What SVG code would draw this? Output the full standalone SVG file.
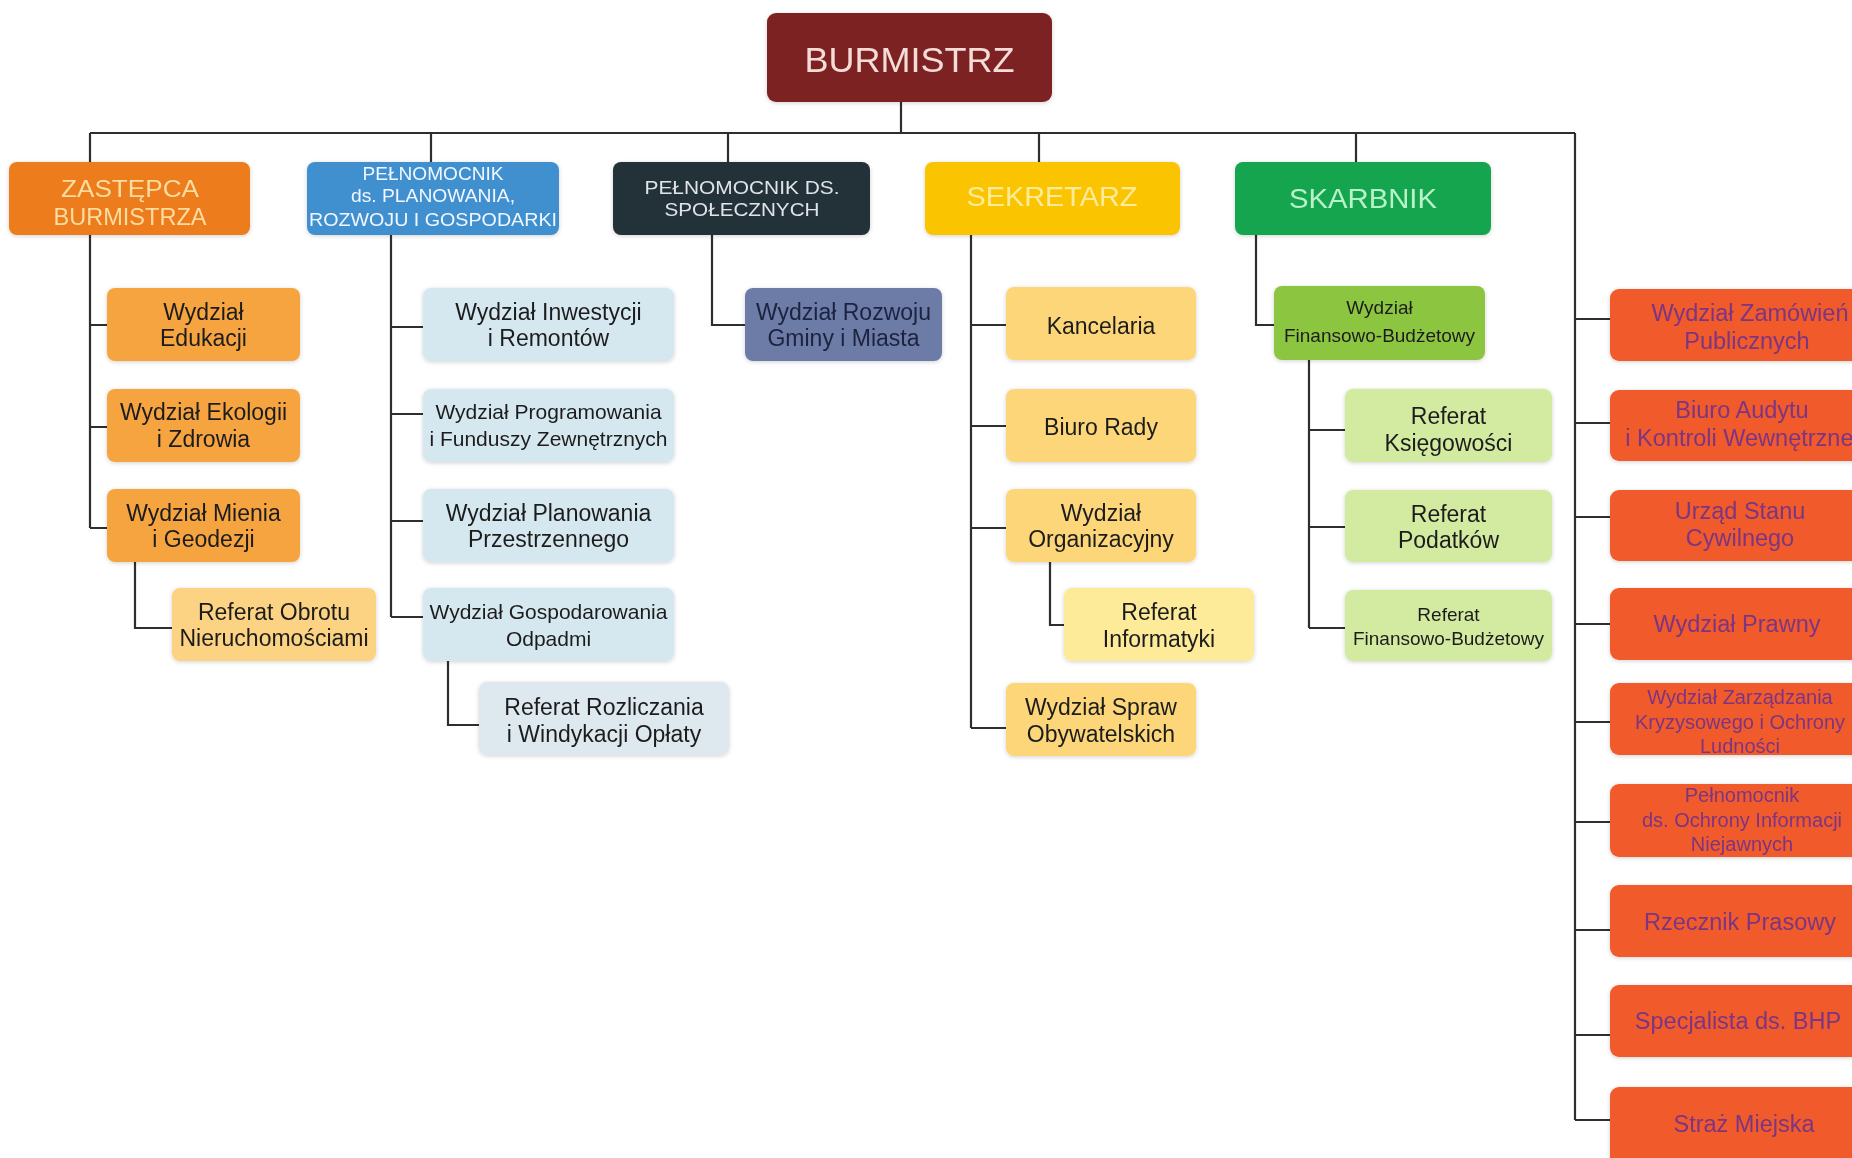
<svg xmlns="http://www.w3.org/2000/svg" width="1852" height="1158" viewBox="0 0 1852 1158">
<style>
text{font-family:"Liberation Sans",Arial,sans-serif;text-anchor:middle}
.c{fill:none;stroke:#2e2e2e;stroke-width:2.2}
.t3{font-size:23px;fill:#1d1d1d}
.s{font-size:21px}
.xs{font-size:19px}
.red rect{fill:#f15a2b}
.red text{fill:#7b3582;font-size:23.5px}
.red .sm{font-size:20px}
.or rect{fill:#f6a441}
.lb rect{fill:#d5e8f0}
.yl rect{fill:#fcd679}
.lg rect{fill:#d3eba1}
</style>
<defs>
<filter id="sh" x="-10%" y="-10%" width="120%" height="130%">
<feGaussianBlur in="SourceAlpha" stdDeviation="2"/>
<feOffset dy="1" result="b"/>
<feFlood flood-color="#000" flood-opacity="0.18"/>
<feComposite in2="b" operator="in"/>
<feMerge><feMergeNode/><feMergeNode in="SourceGraphic"/></feMerge>
</filter>
</defs>
<rect width="1852" height="1158" fill="#ffffff"/>

<g id="connectors">
<path class="c" d="M901 102V133M90 133H1575M90 133V163M431 133V163M728 133V163M1039 133V163M1356 133V163"/>
<path class="c" d="M90 235V528M90 325H107M90 427H107M90 528H107M135 562V628H172"/>
<path class="c" d="M391 235V617M391 327H423M391 414H423M391 521H423M391 617H423M448 661V725H479"/>
<path class="c" d="M712 235V325H745"/>
<path class="c" d="M971 235V728M971 325H1006M971 426H1006M971 528H1006M971 728H1006M1050 562V625H1064"/>
<path class="c" d="M1256 235V325H1274M1309 360V628M1309 430H1345M1309 527H1345M1309 628H1345"/>
<path class="c" d="M1575 133V1120M1575 319H1610M1575 423H1610M1575 517H1610M1575 624H1610M1575 722H1610M1575 822H1610M1575 930H1610M1575 1035H1610M1575 1120H1610"/>
</g>

<g id="burmistrz" filter="url(#sh)">
<rect x="767" y="13" width="285" height="89" rx="9" fill="#7c2424"/>
<text x="909.5" y="72" font-size="35" fill="#f6dcd8" textLength="210" lengthAdjust="spacingAndGlyphs">BURMISTRZ</text>
</g>

<g id="zastepca" filter="url(#sh)">
<rect x="9" y="162" width="241" height="73" rx="8" fill="#ec7c1c"/>
<text x="130" y="197" font-size="24" fill="#fcdca0" textLength="138" lengthAdjust="spacingAndGlyphs">ZASTĘPCA</text>
<text x="130" y="225" font-size="24" fill="#fcdca0" textLength="153" lengthAdjust="spacingAndGlyphs">BURMISTRZA</text>
</g>
<g id="pelnomocnik-planowania" filter="url(#sh)">
<rect x="307" y="162" width="252" height="73" rx="8" fill="#3f90d0"/>
<text x="433" y="180" font-size="18" fill="#f2f7ff" textLength="141" lengthAdjust="spacingAndGlyphs">PEŁNOMOCNIK</text>
<text x="433" y="202" font-size="18" fill="#f2f7ff" textLength="164" lengthAdjust="spacingAndGlyphs">ds. PLANOWANIA,</text>
<text x="433" y="226" font-size="18" fill="#f2f7ff" textLength="248" lengthAdjust="spacingAndGlyphs">ROZWOJU  I GOSPODARKI</text>
</g>
<g id="pelnomocnik-spolecznych" filter="url(#sh)">
<rect x="613" y="162" width="257" height="73" rx="8" fill="#243039"/>
<text x="742" y="194" font-size="19" fill="#dfe4e8" textLength="195" lengthAdjust="spacingAndGlyphs">PEŁNOMOCNIK DS.</text>
<text x="742" y="216" font-size="19" fill="#dfe4e8" textLength="155" lengthAdjust="spacingAndGlyphs">SPOŁECZNYCH</text>
</g>
<g id="sekretarz" filter="url(#sh)">
<rect x="925" y="162" width="255" height="73" rx="8" fill="#fac500"/>
<text x="1052" y="206" font-size="27" fill="#fdeb9c" textLength="171" lengthAdjust="spacingAndGlyphs">SEKRETARZ</text>
</g>
<g id="skarbnik" filter="url(#sh)">
<rect x="1235" y="162" width="256" height="73" rx="8" fill="#12a54f"/>
<text x="1363" y="208" font-size="27" fill="#b9f2c9" textLength="148" lengthAdjust="spacingAndGlyphs">SKARBNIK</text>
</g>

<g class="or" filter="url(#sh)">
<g id="wydzial-edukacji"><rect x="107" y="288" width="193" height="73" rx="8"/>
<text class="t3" x="203.5" y="320">Wydział</text><text class="t3" x="203.5" y="346">Edukacji</text></g>
<g id="wydzial-ekologii"><rect x="107" y="389" width="193" height="73" rx="8"/>
<text class="t3" x="203.5" y="420">Wydział Ekologii</text><text class="t3" x="203.5" y="447">i Zdrowia</text></g>
<g id="wydzial-mienia"><rect x="107" y="489" width="193" height="73" rx="8"/>
<text class="t3" x="203.5" y="521">Wydział Mienia</text><text class="t3" x="203.5" y="547">i Geodezji</text></g>
</g>
<g id="referat-obrotu" filter="url(#sh)"><rect x="172" y="588" width="204" height="73" rx="8" fill="#fbd382"/>
<text class="t3" x="274" y="620">Referat Obrotu</text><text class="t3" x="274" y="646">Nieruchomościami</text></g>

<g class="lb" filter="url(#sh)">
<g id="wydzial-inwestycji"><rect x="423" y="288" width="251" height="73" rx="8"/>
<text class="t3" x="548.5" y="320">Wydział Inwestycji</text><text class="t3" x="548.5" y="346">i Remontów</text></g>
<g id="wydzial-programowania"><rect x="423" y="389" width="251" height="73" rx="8"/>
<text class="t3 s" x="548.5" y="419">Wydział Programowania</text><text class="t3 s" x="548.5" y="446">i Funduszy Zewnętrznych</text></g>
<g id="wydzial-planowania"><rect x="423" y="489" width="251" height="73" rx="8"/>
<text class="t3" x="548.5" y="521">Wydział Planowania</text><text class="t3" x="548.5" y="547">Przestrzennego</text></g>
<g id="wydzial-gospodarowania"><rect x="423" y="588" width="251" height="73" rx="8"/>
<text class="t3 s" x="548.5" y="619">Wydział Gospodarowania</text><text class="t3 s" x="548.5" y="646">Odpadmi</text></g>
</g>
<g id="referat-rozliczania" filter="url(#sh)"><rect x="479" y="682" width="250" height="73" rx="8" fill="#dde9ef"/>
<text class="t3" x="604" y="715">Referat Rozliczania</text><text class="t3" x="604" y="742">i Windykacji Opłaty</text></g>

<g id="wydzial-rozwoju" filter="url(#sh)"><rect x="745" y="288" width="197" height="73" rx="8" fill="#6c7ba7"/>
<text class="t3" x="843.5" y="320" style="fill:#1c2340">Wydział Rozwoju</text><text class="t3" x="843.5" y="346" style="fill:#1c2340">Gminy i Miasta</text></g>

<g class="yl" filter="url(#sh)">
<g id="kancelaria"><rect x="1006" y="287" width="190" height="73" rx="8"/>
<text class="t3" x="1101" y="334">Kancelaria</text></g>
<g id="biuro-rady"><rect x="1006" y="389" width="190" height="73" rx="8"/>
<text class="t3" x="1101" y="435">Biuro Rady</text></g>
<g id="wydzial-organizacyjny"><rect x="1006" y="489" width="190" height="73" rx="8"/>
<text class="t3" x="1101" y="521">Wydział</text><text class="t3" x="1101" y="547">Organizacyjny</text></g>
<g id="wydzial-spraw-obywatelskich"><rect x="1006" y="683" width="190" height="73" rx="8"/>
<text class="t3" x="1101" y="715">Wydział Spraw</text><text class="t3" x="1101" y="742">Obywatelskich</text></g>
</g>
<g id="referat-informatyki" filter="url(#sh)"><rect x="1064" y="588" width="190" height="73" rx="8" fill="#fdeb99"/>
<text class="t3" x="1159" y="620">Referat</text><text class="t3" x="1159" y="647">Informatyki</text></g>

<g id="wydzial-finansowo-budzetowy" filter="url(#sh)"><rect x="1274" y="286" width="211" height="74" rx="8" fill="#8cc63f"/>
<text class="t3 xs" x="1379.5" y="314">Wydział</text><text class="t3 xs" x="1379.5" y="342">Finansowo-Budżetowy</text></g>
<g class="lg" filter="url(#sh)">
<g id="referat-ksiegowosci"><rect x="1345" y="389" width="207" height="73" rx="8"/>
<text class="t3" x="1448.5" y="424">Referat</text><text class="t3" x="1448.5" y="451">Księgowości</text></g>
<g id="referat-podatkow"><rect x="1345" y="490" width="207" height="72" rx="8"/>
<text class="t3" x="1448.5" y="522">Referat</text><text class="t3" x="1448.5" y="548">Podatków</text></g>
<g id="referat-finansowo-budzetowy"><rect x="1345" y="590" width="207" height="71" rx="8"/>
<text class="t3 xs" x="1448.5" y="621">Referat</text><text class="t3 xs" x="1448.5" y="645">Finansowo-Budżetowy</text></g>
</g>

<g class="red" filter="url(#sh)">
<g id="wydzial-zamowien"><rect x="1610" y="289" width="270" height="72" rx="9"/>
<text x="1750" y="321">Wydział Zamówień</text><text x="1747" y="349">Publicznych</text></g>
<g id="biuro-audytu"><rect x="1610" y="390" width="270" height="71" rx="9"/>
<text x="1742" y="418">Biuro Audytu</text><text x="1742" y="446">i Kontroli Wewnętrznej</text></g>
<g id="urzad-stanu-cywilnego"><rect x="1610" y="490" width="270" height="71" rx="9"/>
<text x="1740" y="519">Urząd Stanu</text><text x="1740" y="546">Cywilnego</text></g>
<g id="wydzial-prawny"><rect x="1610" y="588" width="270" height="72" rx="9"/>
<text x="1737" y="632">Wydział Prawny</text></g>
<g id="wydzial-zarzadzania"><rect x="1610" y="683" width="270" height="72" rx="9"/>
<text class="sm" x="1740" y="704">Wydział Zarządzania</text><text class="sm" x="1740" y="729">Kryzysowego i Ochrony</text><text class="sm" x="1740" y="753">Ludności</text></g>
<g id="pelnomocnik-ochrony"><rect x="1610" y="784" width="270" height="73" rx="9"/>
<text class="sm" x="1742" y="802">Pełnomocnik</text><text class="sm" x="1742" y="827">ds. Ochrony Informacji</text><text class="sm" x="1742" y="851">Niejawnych</text></g>
<g id="rzecznik-prasowy"><rect x="1610" y="885" width="270" height="72" rx="9"/>
<text x="1740" y="930">Rzecznik Prasowy</text></g>
<g id="specjalista-bhp"><rect x="1610" y="985" width="270" height="72" rx="9"/>
<text x="1738" y="1029">Specjalista ds. BHP</text></g>
<g id="straz-miejska"><rect x="1610" y="1087" width="270" height="80" rx="9"/>
<text x="1744" y="1132">Straż Miejska</text></g>
</g>
</svg>
